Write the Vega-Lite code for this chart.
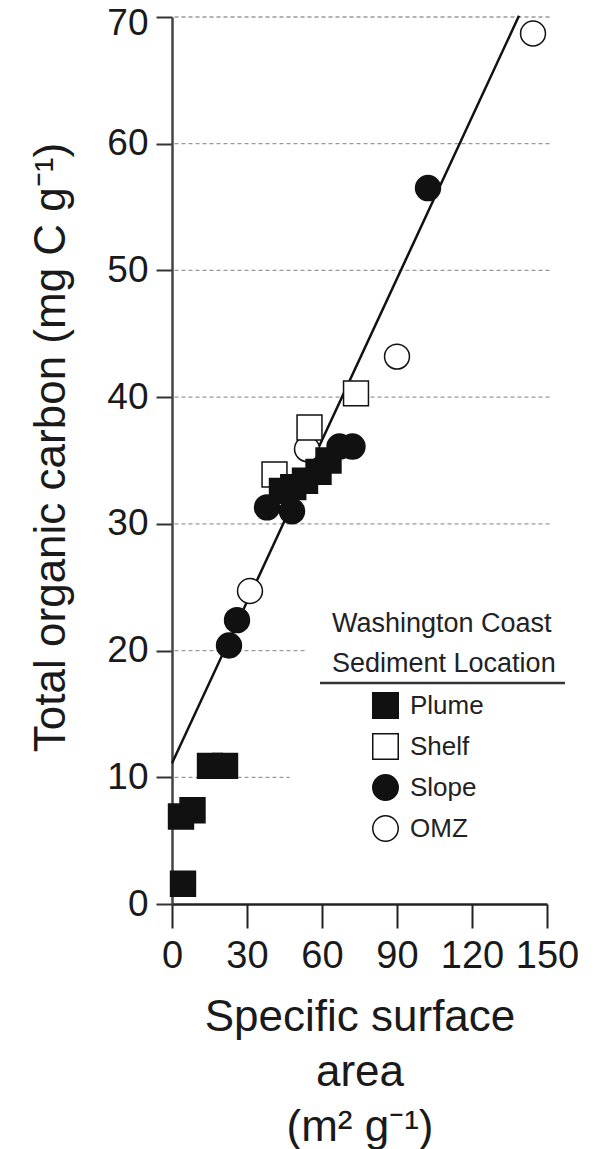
{
  "$schema": "https://vega.github.io/schema/vega-lite/v6.json",
  "width": 375,
  "height": 887,
  "autosize": {"type": "none"},
  "padding": {"left": 172, "top": 17, "right": 55, "bottom": 245},
  "background": "white",
  "config": {
    "view": {"stroke": null},
    "font": "Liberation Sans",
    "legend": {
      "orient": "none",
      "legendX": 160,
      "legendY": 594,
      "padding": 0,
      "titleFontSize": 27,
      "titleFontWeight": "normal",
      "titleColor": "#222",
      "titleAnchor": "start",
      "titleAlign": "left",
      "titleLineHeight": 40,
      "titlePadding": 14,
      "titleLimit": 400,
      "labelFontSize": 26,
      "labelColor": "#222",
      "symbolSize": 650,
      "symbolStrokeWidth": 1.5,
      "symbolOffset": 40,
      "labelOffset": 11,
      "rowPadding": 8
    }
  },
  "datasets": {
    "grid": [
      {"x": 1, "x2": 152, "y": 70},
      {"x": 1, "x2": 152, "y": 60},
      {"x": 1, "x2": 152, "y": 50},
      {"x": 1, "x2": 152, "y": 40},
      {"x": 1, "x2": 152, "y": 30},
      {"x": 1, "x2": 54, "y": 20},
      {"x": 1, "x2": 47, "y": 10}
    ],
    "fit": [
      {"x": 0, "y": 11.1},
      {"x": 138.8, "y": 70.1}
    ],
    "underline": [
      {"x": 59.2, "x2": 157.2, "y": 17.44}
    ],
    "samples": [
      {"location": "OMZ", "x": 144.4, "y": 68.7},
      {"location": "OMZ", "x": 90, "y": 43.2},
      {"location": "OMZ", "x": 54, "y": 35.9},
      {"location": "OMZ", "x": 31.2, "y": 24.7},
      {"location": "Shelf", "x": 73.6, "y": 40.3},
      {"location": "Shelf", "x": 55, "y": 37.6},
      {"location": "Shelf", "x": 41, "y": 33.9},
      {"location": "Slope", "x": 102.4, "y": 56.5},
      {"location": "Slope", "x": 67, "y": 36.1},
      {"location": "Slope", "x": 72.2, "y": 36.1},
      {"location": "Slope", "x": 38, "y": 31.3},
      {"location": "Slope", "x": 48, "y": 31.0},
      {"location": "Slope", "x": 26, "y": 22.4},
      {"location": "Slope", "x": 22.8, "y": 20.4},
      {"location": "Plume", "x": 44, "y": 32.6},
      {"location": "Plume", "x": 48.5, "y": 32.9},
      {"location": "Plume", "x": 53.2, "y": 33.4},
      {"location": "Plume", "x": 58.6, "y": 34.1},
      {"location": "Plume", "x": 62.6, "y": 35.0},
      {"location": "Plume", "x": 15.2, "y": 10.9},
      {"location": "Plume", "x": 21.2, "y": 10.9},
      {"location": "Plume", "x": 3.6, "y": 6.9},
      {"location": "Plume", "x": 8.2, "y": 7.4},
      {"location": "Plume", "x": 4.4, "y": 1.6}
    ]
  },
  "encoding": {
    "x": {
      "field": "x",
      "type": "quantitative",
      "scale": {"domain": [0, 150], "nice": false, "zero": false},
      "axis": {
        "values": [0, 30, 60, 90, 120, 150],
        "grid": false,
        "title": ["Specific surface", "area", "(m² g⁻¹)"],
        "titleFontSize": 44,
        "titleFontWeight": "normal",
        "titleLineHeight": 55,
        "titlePadding": 20,
        "titleColor": "#1a1a1a",
        "labelFontSize": 38,
        "labelColor": "#1a1a1a",
        "labelPadding": 9,
        "labelFlush": false,
        "tickSize": 24,
        "tickWidth": 2,
        "tickColor": "#222",
        "domainColor": "#222",
        "domainWidth": 2.5
      }
    },
    "y": {
      "field": "y",
      "type": "quantitative",
      "scale": {"domain": [0, 70], "nice": false, "zero": false},
      "axis": {
        "values": [0, 10, 20, 30, 40, 50, 60, 70],
        "grid": false,
        "title": "Total organic carbon (mg C g⁻¹)",
        "titleFontSize": 44,
        "titleFontWeight": "normal",
        "titleColor": "#1a1a1a",
        "titlePadding": 33,
        "titleY": 430,
        "labelFontSize": 37,
        "labelColor": "#1a1a1a",
        "labelPadding": 8,
        "labelFlush": false,
        "labelOffset": {"condition": {"test": "datum.value == 70", "value": 6}, "value": 0},
        "tickSize": 16,
        "tickWidth": 2,
        "tickColor": "#333",
        "domainColor": "#444",
        "domainWidth": 2.5
      }
    }
  },
  "layer": [
    {
      "data": {"name": "grid"},
      "mark": {"type": "rule", "color": "#999", "strokeWidth": 1.3, "strokeDash": [4, 3]},
      "encoding": {"x2": {"field": "x2"}}
    },
    {
      "data": {"name": "fit"},
      "mark": {"type": "line", "color": "#111", "strokeWidth": 2.5},
      "encoding": {}
    },
    {
      "data": {"name": "underline"},
      "mark": {"type": "rule", "color": "#333", "strokeWidth": 2.5},
      "encoding": {"x2": {"field": "x2"}}
    },
    {
      "data": {"name": "samples"},
      "mark": {"type": "point", "filled": true, "strokeWidth": 1.5, "size": 620, "opacity": 1},
      "encoding": {
        "shape": {
          "field": "location",
          "type": "nominal",
          "title": ["Washington Coast", "Sediment Location"],
          "scale": {"domain": ["Plume", "Shelf", "Slope", "OMZ"], "range": ["square", "square", "circle", "circle"]}
        },
        "fill": {
          "field": "location",
          "type": "nominal",
          "title": ["Washington Coast", "Sediment Location"],
          "scale": {"domain": ["Plume", "Shelf", "Slope", "OMZ"], "range": ["#111", "#ffffff", "#111", "#ffffff"]}
        },
        "stroke": {
          "field": "location",
          "type": "nominal",
          "title": ["Washington Coast", "Sediment Location"],
          "scale": {"domain": ["Plume", "Shelf", "Slope", "OMZ"], "range": ["#111", "#111", "#111", "#111"]}
        }
      }
    }
  ]
}
